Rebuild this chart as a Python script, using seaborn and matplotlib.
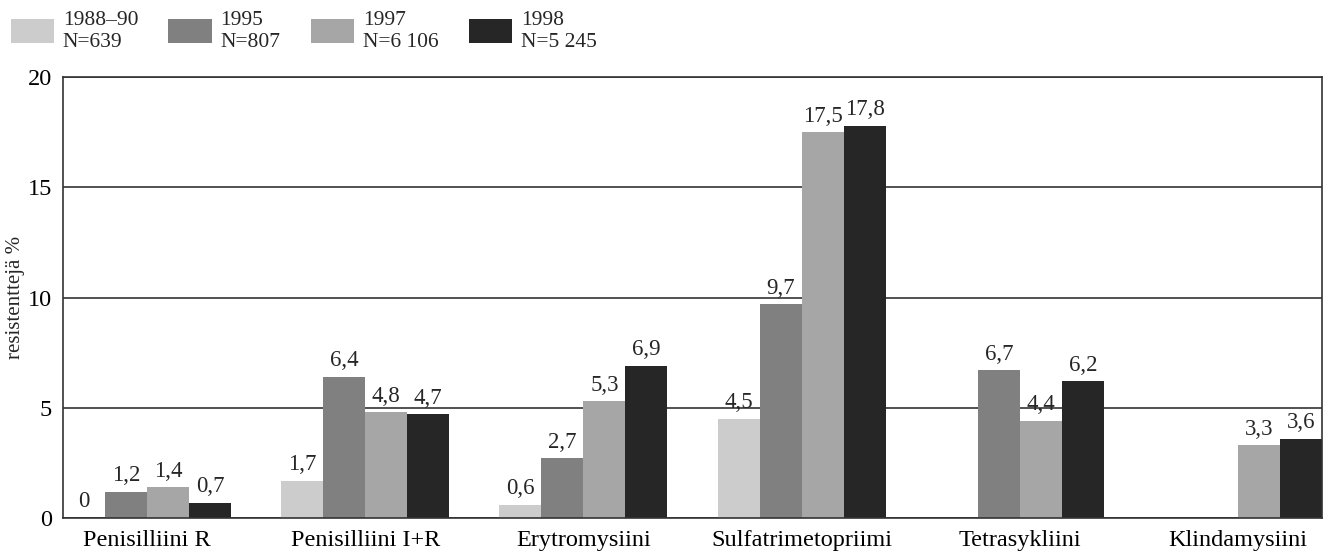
import numpy as np
import pandas as pd
import matplotlib
matplotlib.use("Agg")
import matplotlib.pyplot as plt
import seaborn as sns
from matplotlib.patches import Patch

categories = ["Penisilliini R", "Penisilliini I+R", "Erytromysiini",
              "Sulfatrimetopriimi", "Tetrasykliini", "Klindamysiini"]
series = ["1988–90", "1995", "1997", "1998"]
series_n = ["N=639", "N=807", "N=6 106", "N=5 245"]
values_1988 = [0.0, 1.7, 0.6, 4.5, np.nan, np.nan]
values_1995 = [1.2, 6.4, 2.7, 9.7, 6.7, np.nan]
values_1997 = [1.4, 4.8, 5.3, 17.5, 4.4, 3.3]
values_1998 = [0.7, 4.7, 6.9, 17.8, 6.2, 3.6]
colors = ["#cccccc", "#808080", "#a6a6a6", "#262626"]

sns.set_style("white")
plt.rcParams["font.family"] = ["Liberation Serif", "DejaVu Serif"]

df = pd.DataFrame({
    "category": categories * 4,
    "year": [s for s in series for _ in categories],
    "value": values_1988 + values_1995 + values_1997 + values_1998,
})

fig = plt.figure(figsize=(13.32, 5.55), dpi=100)
ax = fig.add_axes([0.0473, 0.0667, 0.9452, 0.7943])

sns.barplot(data=df, x="category", y="value", hue="year", order=categories,
            hue_order=series, palette=colors, width=0.77, saturation=1,
            linewidth=0, ax=ax, legend=False)

ax.set_xlim(-0.385, 5.385)
ax.set_ylim(0, 20)
ax.set_yticks([0, 5, 10, 15, 20])
ax.yaxis.grid(True, color="#333333", linewidth=1.2)
ax.set_axisbelow(True)
for sp in ax.spines.values():
    sp.set_color("#333333")
    sp.set_linewidth(1.2)
ax.tick_params(axis="both", length=0, labelsize=17.5, colors="black")
ax.tick_params(axis="x", pad=9)
ax.tick_params(axis="y", pad=8)
ax.set_xlabel("")
ax.set_ylabel("resistenttejä %", fontsize=15, labelpad=2)

for cont in ax.containers:
    labels = []
    for bar in cont:
        h = bar.get_height()
        if np.isnan(h):
            labels.append("")
        elif h == 0:
            labels.append("0")
        else:
            labels.append(f"{h:.1f}".replace(".", ","))
    ax.bar_label(cont, labels=labels, padding=4, fontsize=16.5)

handles = [Patch(facecolor=c, edgecolor="none") for c in colors]
leg_labels = [f"{s}\n{n}" for s, n in zip(series, series_n)]
fig.legend(handles, leg_labels, loc="upper left", bbox_to_anchor=(0.0, 1.0),
           ncol=4, frameon=False, fontsize=15.5, handlelength=2.0, handleheight=1.35,
           handletextpad=0.42, columnspacing=1.4, borderaxespad=0.1,
           labelspacing=0.2)

fig.savefig("out.png", dpi=100)
